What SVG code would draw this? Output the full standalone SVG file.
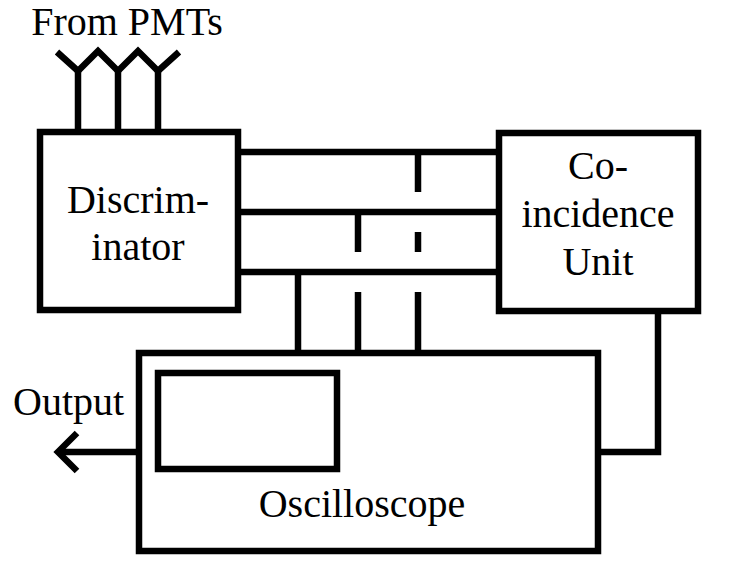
<svg xmlns="http://www.w3.org/2000/svg" width="742" height="584" viewBox="0 0 742 584">
<style>
.box{fill:#fff;stroke:#000;stroke-width:6.5}
.ln{fill:none;stroke:#000;stroke-width:6.5}
text{font-family:"Liberation Serif","Times New Roman",serif;font-size:40px;fill:#000}
</style>
<rect width="742" height="584" fill="#fff"/>
<g id="connectors">
<polyline class="ln" points="57,52 78,71 98,51 118,71 138,51 158,71 179,52" stroke-linejoin="miter"/>
<line class="ln" x1="78" y1="70" x2="78" y2="132"/>
<line class="ln" x1="118" y1="70" x2="118" y2="132"/>
<line class="ln" x1="158" y1="70" x2="158" y2="132"/>
<line class="ln" x1="238" y1="152" x2="499" y2="152"/>
<line class="ln" x1="238" y1="212" x2="499" y2="212"/>
<line class="ln" x1="238" y1="272" x2="499" y2="272"/>
<line class="ln" x1="298" y1="272" x2="298" y2="353"/>
<line class="ln" x1="358" y1="212" x2="358" y2="252"/>
<line class="ln" x1="358" y1="292" x2="358" y2="353"/>
<line class="ln" x1="418" y1="152" x2="418" y2="192"/>
<line class="ln" x1="418" y1="232" x2="418" y2="252"/>
<line class="ln" x1="418" y1="292" x2="418" y2="353"/>
<polyline class="ln" points="658,312 658,452 598,452"/>
<line class="ln" x1="139" y1="452" x2="58" y2="452"/>
<polyline class="ln" points="77,433 58,452 77,471"/>
</g>
<g id="from-pmts"><text x="127" y="35" text-anchor="middle">From PMTs</text></g>
<g id="discriminator">
<rect class="box" x="40" y="132" width="198" height="178"/>
<text x="138" y="213" text-anchor="middle">Discrim-</text>
<text x="138" y="260" text-anchor="middle">inator</text>
</g>
<g id="coincidence">
<rect class="box" x="499" y="133" width="199" height="178"/>
<text x="598" y="179" text-anchor="middle">Co-</text>
<text x="598" y="227" text-anchor="middle">incidence</text>
<text x="598" y="275" text-anchor="middle">Unit</text>
</g>
<g id="oscilloscope">
<rect class="box" x="139" y="353" width="459" height="198"/>
<rect class="box" x="158" y="373" width="179" height="96"/>
<text x="362" y="517" text-anchor="middle">Oscilloscope</text>
</g>
<g id="output"><text x="13" y="415">Output</text></g>
</svg>
